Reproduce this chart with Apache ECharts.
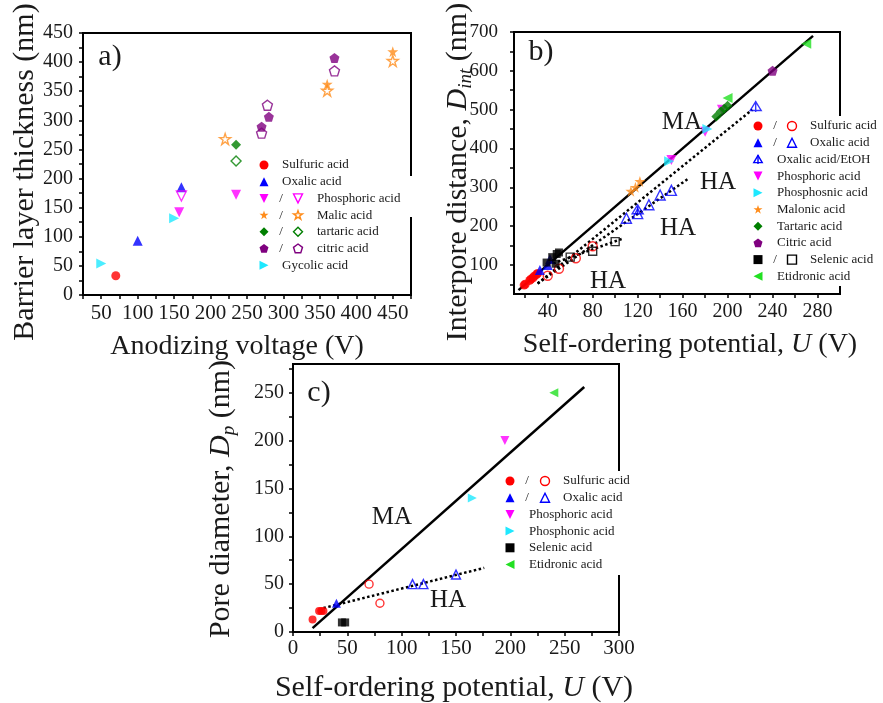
<!DOCTYPE html>
<html>
<head>
<meta charset="utf-8">
<script src="https://cdn.jsdelivr.net/npm/echarts@6/dist/echarts.min.js"></script>
<style>
html,body{margin:0;padding:0;background:#fff}
#main{width:883px;height:703px}
</style>
</head>
<body>
<div id="main"></div>
<script>
var FONT = "'Liberation Serif','Times New Roman',serif";
var RED = '#ff0000', BLUE = '#0000ff', MAG = '#ff00ff', ORA = '#ff8c1a', GRN = '#007f00',
    PUR = '#7f007f', CYA = '#1ee8ff', BLK = '#000000', LGR = '#22e022';

// a) anodizing voltage (V) vs barrier layer thickness (nm)
var aSulfuric = [[70, 33]];
var aOxalic = [[100, 93], [160, 185]];
var aPhosFill = [[157, 142], [235, 172]];
var aPhosOpen = [[160, 170]];
var aMalicFill = [[360, 362], [450, 418]];
var aMalicOpen = [[360, 351], [450, 402], [220, 268]];
var aTartFill = [[235, 258]];
var aTartOpen = [[235, 230]];
var aCitricFill = [[370, 407], [280, 306], [270, 289]];
var aCitricOpen = [[370, 385], [278, 326], [270, 278]];
var aGlycolic = [[50, 54], [150, 132]];

// b) self-ordering potential (V) vs interpore distance (nm)
var bSulfFill = [[19, 48], [20, 50], [24, 60], [25, 63], [27, 67], [28, 71], [30, 75], [31, 78]];
var bSulfOpen = [[40, 72], [50, 90], [65, 117], [80, 148]];
var bOxFill = [[33, 87], [40, 100], [42, 115]];
var bOxOpen = [[110, 220], [120, 232], [130, 255], [140, 280], [150, 292]];
var bOxEtoh = [[120, 242], [225, 508]];
var bPhosphoric = [[150, 370], [180, 443], [195, 500]];
var bPhosphonic = [[148, 367], [182, 450]];
var bMalonic = [[114, 290], [118, 300], [122, 315]];
var bTartaric = [[190, 482], [194, 495], [197, 502], [200, 510]];
var bCitric = [[240, 600]];
var bSelFill = [[39, 106], [44, 120], [48, 128], [50, 132], [47, 103]];
var bSelOpen = [[60, 120], [80, 135], [100, 160]];
var bEtidronic = [[270, 670], [200, 530]];
var bLineMA = [[14, 35], [276, 690]];
var bLineHA1 = [[31, 52], [222, 500]];
var bLineHA2 = [[31, 52], [166, 324]];
var bLineHA3 = [[45, 104], [107, 168]];

// c) self-ordering potential (V) vs pore diameter (nm)
var cSulfFill = [[18, 13], [24, 22], [26, 22], [28, 22]];
var cSulfOpen = [[70, 50], [80, 30]];
var cOxFill = [[40, 30]];
var cOxOpen = [[110, 50], [120, 50], [150, 60]];
var cPhosphoric = [[195, 200]];
var cPhosphonic = [[165, 140]];
var cSelenic = [[45, 10], [48, 10]];
var cEtidronic = [[240, 250]];
var cLineMA = [[18, 4], [268, 256]];
var cLineHA = [[28, 25], [176, 67]];

// axis ticks / labels
var aXLabels = [50, 100, 150, 200, 250, 300, 350, 400, 450];
var aXTicks = [25, 50, 75, 100, 125, 150, 175, 200, 225, 250, 275, 300, 325, 350, 375, 400, 425, 450, 475];
var aYLabels = [0, 50, 100, 150, 200, 250, 300, 350, 400, 450];
var aYTicks = [0, 25, 50, 75, 100, 125, 150, 175, 200, 225, 250, 275, 300, 325, 350, 375, 400, 425, 450];
var bXLabels = [40, 80, 120, 160, 200, 240, 280];
var bXTicks = [20, 40, 60, 80, 100, 120, 140, 160, 180, 200, 220, 240, 260, 280];
var bYLabels = [100, 200, 300, 400, 500, 600, 700];
var bYTicks = [50, 100, 150, 200, 250, 300, 350, 400, 450, 500, 550, 600, 650, 700];
var cXLabels = [0, 50, 100, 150, 200, 250, 300];
var cXTicks = [0, 25, 50, 75, 100, 125, 150, 175, 200, 225, 250, 275, 300];
var cYLabels = [0, 50, 100, 150, 200, 250];
var cYTicks = [0, 25, 50, 75, 100, 125, 150, 175, 200, 225, 250, 275];

// legends
var aLegNames = ['Sulfuric acid', 'Oxalic acid', 'Phosphoric acid', 'Malic acid', 'tartaric acid', 'citric acid', 'Gycolic acid'];
var aLegKinds = ['circle', 'up', 'down', 'star', 'diamond', 'pentagon', 'right'];
var aLegColors = [RED, BLUE, MAG, ORA, GRN, PUR, CYA];
var aLegPair = [false, false, true, true, true, true, false];
var bLegNames = ['Sulfuric acid', 'Oxalic acid', 'Oxalic acid/EtOH', 'Phosphoric acid', 'Phosphosnic acid', 'Malonic acid', 'Tartaric acid', 'Citric acid', 'Selenic acid', 'Etidronic acid'];
var bLegKinds = ['circle', 'up', 'etoh', 'down', 'right', 'star', 'diamond', 'pentagon', 'rect', 'left'];
var bLegColors = [RED, BLUE, BLUE, MAG, CYA, ORA, GRN, PUR, BLK, LGR];
var bLegPair = [true, true, false, false, false, false, false, false, true, false];
var cLegNames = ['Sulfuric acid', 'Oxalic acid', 'Phosphoric acid', 'Phosphonic acid', 'Selenic acid', 'Etidronic acid'];
var cLegKinds = ['circle', 'up', 'down', 'right', 'rect', 'left'];
var cLegColors = [RED, BLUE, MAG, CYA, BLK, LGR];
var cLegPair = [true, true, false, false, false, false];

var SHAPES = {
    up: [[50, 0], [100, 100], [0, 100]],
    down: [[0, 0], [100, 0], [50, 100]],
    right: [[0, 0], [100, 50], [0, 100]],
    left: [[100, 0], [0, 50], [100, 100]],
    diamond: [[50, 0], [100, 50], [50, 100], [0, 50]],
    pentagon: [[50, 0], [100, 37], [81, 97], [19, 97], [0, 37]],
    star: [[50, 0], [62, 36], [100, 36], [69, 59], [81, 96], [50, 73], [19, 96], [31, 59], [0, 36], [38, 36]]
};

function symPath(kind) {
    if (kind === 'circle' || kind === 'rect') return kind;
    if (kind === 'etoh') return 'path://M50,6 L97,86 L3,86 Z M50,0 L50,100';
    return 'path://M' + SHAPES[kind].map(function (p) { return p.join(','); }).join(' L') + ' Z';
}

function sc(g, data, kind, color, open, size) {
    return {
        type: 'scatter', xAxisIndex: g, yAxisIndex: g, data: data, silent: true, z: 5,
        symbol: symPath(kind), symbolSize: size || 10,
        itemStyle: open ? {color: 'rgba(255,255,255,0)', borderColor: color, borderWidth: 1.4}
                        : {color: color, borderWidth: 0}
    };
}

function fit(g, data, dotted) {
    return {
        type: 'line', xAxisIndex: g, yAxisIndex: g, data: data, symbol: 'none', silent: true, z: 3,
        lineStyle: {color: '#000', width: 2.5, type: dotted ? [2.5, 2.5] : 'solid'}
    };
}

function axis(g, min, max, labels, ticks, fs, margin) {
    return {
        type: 'value', gridIndex: g, min: min, max: max,
        splitLine: {show: false},
        axisLine: {show: true, onZero: false, lineStyle: {color: '#000', width: 2}},
        axisTick: {show: true, customValues: ticks, length: 4, lineStyle: {color: '#000', width: 1.5}},
        axisLabel: {customValues: labels, fontFamily: FONT, fontSize: fs, color: '#1a1a1a', margin: margin}
    };
}

var gfx = [];
function txt(str, x, y, fs, opt) {
    opt = opt || {};
    gfx.push({
        type: 'text', x: x, y: y, z: 60, rotation: opt.rot || 0,
        style: {text: str, fontFamily: FONT, fontSize: fs, fill: opt.fill || '#1a1a1a',
                align: opt.align || 'center', verticalAlign: 'middle', rich: opt.rich}
    });
}

function symG(kind, cx, cy, s, color, open) {
    var style = open ? {fill: 'none', stroke: color, lineWidth: 1.4} : {fill: color};
    if (kind === 'circle') {
        gfx.push({type: 'circle', z: 60, shape: {cx: cx, cy: cy, r: s / 2}, style: style});
    } else if (kind === 'rect') {
        gfx.push({type: 'rect', z: 60, shape: {x: cx - s / 2, y: cy - s / 2, width: s, height: s}, style: style});
    } else if (kind === 'etoh') {
        gfx.push({type: 'polygon', z: 60, shape: {points: [[cx, cy - s * 0.44], [cx + s * 0.47, cy + s * 0.36], [cx - s * 0.47, cy + s * 0.36]]},
                  style: {fill: 'none', stroke: color, lineWidth: 1.4}});
        gfx.push({type: 'line', z: 60, shape: {x1: cx, y1: cy - s * 0.5, x2: cx, y2: cy + s * 0.5}, style: {stroke: color, lineWidth: 1.4}});
    } else {
        var pts = SHAPES[kind].map(function (p) { return [cx + (p[0] - 50) / 100 * s, cy + (p[1] - 50) / 100 * s]; });
        gfx.push({type: 'polygon', z: 60, shape: {points: pts}, style: style});
    }
}

function legend(names, kinds, colors, pair, x0, xs, xo, xt1, xt2, y0, dy, s) {
    names.forEach(function (n, i) {
        var y = y0 + i * dy;
        symG(kinds[i], x0, y, s, colors[i], false);
        if (pair[i]) {
            txt('/', xs, y, 13);
            symG(kinds[i], xo, y, s, colors[i], true);
            txt(n, xt2, y, 13, {align: 'left'});
        } else {
            txt(n, xt1, y, 13, {align: 'left'});
        }
    });
}

// white boxes behind legends (they cut the frame in the original)
gfx.push({type: 'rect', z: 55, shape: {x: 406, y: 176, width: 10, height: 41}, style: {fill: '#fff'}});
gfx.push({type: 'rect', z: 55, shape: {x: 752, y: 116, width: 131, height: 170}, style: {fill: '#fff'}});
gfx.push({type: 'rect', z: 55, shape: {x: 502, y: 471, width: 135, height: 104}, style: {fill: '#fff'}});

legend(aLegNames, aLegKinds, aLegColors, aLegPair, 264, 281, 298, 282, 317, 165, 16.7, 9);
legend(bLegNames, bLegKinds, bLegColors, bLegPair, 758, 775, 792, 777, 810, 126, 16.7, 9);
legend(cLegNames, cLegKinds, cLegColors, cLegPair, 510, 527, 545, 529, 563, 481, 16.7, 9);

// panel letters and regime labels
txt('a)', 110, 57, 30);
txt('b)', 541, 52, 30);
txt('c)', 319, 393, 30);
txt('MA', 682, 122, 25);
txt('HA', 718, 182, 25);
txt('HA', 678, 228, 25);
txt('HA', 608, 281, 25);
txt('MA', 392, 517, 25);
txt('HA', 448, 600, 25);

// axis titles
var rich = {
    n: {fontFamily: FONT, fontSize: 30, fill: '#1a1a1a', lineHeight: 34},
    i: {fontFamily: FONT, fontSize: 30, fontStyle: 'italic', fill: '#1a1a1a', lineHeight: 34},
    s: {fontFamily: FONT, fontSize: 19, fontStyle: 'italic', fill: '#1a1a1a', lineHeight: 14, verticalAlign: 'bottom'}
};
var richX = {
    n: {fontFamily: FONT, fontSize: 28, fill: '#1a1a1a'},
    i: {fontFamily: FONT, fontSize: 28, fontStyle: 'italic', fill: '#1a1a1a'}
};
txt('Barrier layer thickness (nm)', 25, 172, 30, {rot: Math.PI / 2});
txt('Anodizing voltage (V)', 237, 347, 28);
txt('{n|Interpore distance, }{i|D}{s|int}{n| (nm)}', 458, 172, 30, {rot: Math.PI / 2, rich: rich});
txt('{n|Self-ordering potential, }{i|U}{n| (V)}', 690, 345, 28, {rich: richX});
txt('{n|Pore diameter, }{i|D}{s|p}{n| (nm)}', 221, 499, 30, {rot: Math.PI / 2, rich: rich});
txt('{n|Self-ordering potential, }{i|U}{n| (V)}', 454, 688, 30, {rich: {
    n: {fontFamily: FONT, fontSize: 30, fill: '#1a1a1a'},
    i: {fontFamily: FONT, fontSize: 30, fontStyle: 'italic', fill: '#1a1a1a'}}});

var chart = echarts.init(document.getElementById('main'));
var option = {
    animation: false,
    backgroundColor: '#fff',
    grid: [
        {left: 83, top: 33, width: 328, height: 262, show: true, borderColor: '#000', borderWidth: 2},
        {left: 514, top: 32, width: 326, height: 262, show: true, borderColor: '#000', borderWidth: 2},
        {left: 293, top: 364, width: 326, height: 268, show: true, borderColor: '#000', borderWidth: 2}
    ],
    xAxis: [
        axis(0, 25, 475, aXLabels, aXTicks, 21, 8),
        axis(1, 10, 300, bXLabels, bXTicks, 20, 8),
        axis(2, 0, 300, cXLabels, cXTicks, 21, 6)
    ],
    yAxis: [
        axis(0, 0, 450, aYLabels, aYTicks, 20, 10),
        axis(1, 25, 700, bYLabels, bYTicks, 19, 16),
        axis(2, 0, 280, cYLabels, cYTicks, 20, 9)
    ],
    series: [
        sc(0, aSulfuric, 'circle', RED, false, 9),
        sc(0, aOxalic, 'up', BLUE, false, 10),
        sc(0, aPhosFill, 'down', MAG, false, 10),
        sc(0, aPhosOpen, 'down', MAG, true, 10),
        sc(0, aMalicFill, 'star', ORA, false, 11),
        sc(0, aMalicOpen, 'star', ORA, true, 11),
        sc(0, aTartFill, 'diamond', GRN, false, 10),
        sc(0, aTartOpen, 'diamond', GRN, true, 10),
        sc(0, aCitricFill, 'pentagon', PUR, false, 10),
        sc(0, aCitricOpen, 'pentagon', PUR, true, 10),
        sc(0, aGlycolic, 'right', CYA, false, 10),

        fit(1, bLineMA, false),
        fit(1, bLineHA1, true),
        fit(1, bLineHA2, true),
        fit(1, bLineHA3, true),
        sc(1, bSulfFill, 'circle', RED, false, 9),
        sc(1, bSulfOpen, 'circle', RED, true, 9),
        sc(1, bOxFill, 'up', BLUE, false, 10),
        sc(1, bOxOpen, 'up', BLUE, true, 10),
        sc(1, bOxEtoh, 'etoh', BLUE, true, 11),
        sc(1, bPhosphoric, 'down', MAG, false, 10),
        sc(1, bPhosphonic, 'right', CYA, false, 10),
        sc(1, bMalonic, 'star', ORA, false, 11),
        sc(1, bTartaric, 'diamond', GRN, false, 10),
        sc(1, bCitric, 'pentagon', PUR, false, 10),
        sc(1, bSelFill, 'rect', BLK, false, 8),
        sc(1, bSelOpen, 'rect', BLK, true, 8),
        sc(1, bEtidronic, 'left', LGR, false, 10),

        fit(2, cLineMA, false),
        fit(2, cLineHA, true),
        sc(2, cSulfFill, 'circle', RED, false, 8),
        sc(2, cSulfOpen, 'circle', RED, true, 8),
        sc(2, cOxFill, 'up', BLUE, false, 9),
        sc(2, cOxOpen, 'up', BLUE, true, 9),
        sc(2, cPhosphoric, 'down', MAG, false, 9),
        sc(2, cPhosphonic, 'right', CYA, false, 9),
        sc(2, cSelenic, 'rect', BLK, false, 8),
        sc(2, cEtidronic, 'left', LGR, false, 9)
    ],
    graphic: {elements: gfx}
};
chart.setOption(option);
</script>
</body>
</html>
